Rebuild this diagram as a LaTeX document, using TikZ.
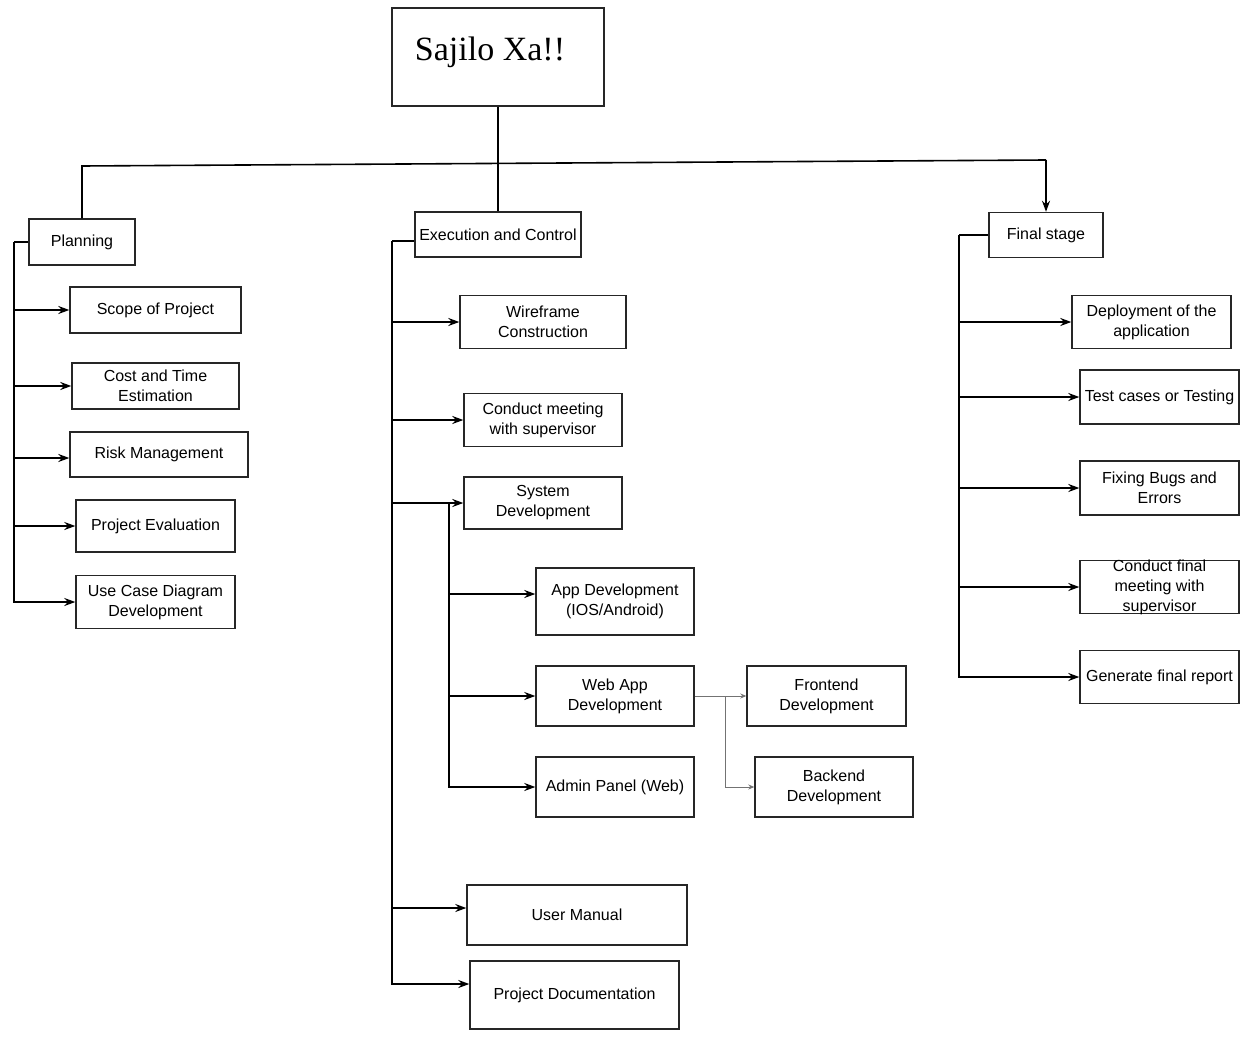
\documentclass[tikz,border=0pt]{standalone}
\usepackage{fontspec}
\setmainfont{Liberation Sans}
\newfontfamily\titlefont{Liberation Serif}
\usetikzlibrary{arrows.meta}
\tikzset{
  box/.style={draw=black!85,line width=1.4pt,align=center,inner sep=1pt,font=\fontsize{16}{20}\selectfont},
  link/.style={line width=1.6pt},
  arr/.style={link,-{Stealth[length=11pt,width=8pt]}},
  thinarr/.style={draw=black!55,line width=0.8pt,-{Stealth[length=6pt,width=5pt]}}
}
\begin{document}
\begin{tikzpicture}[x=1pt,y=-1pt]
\useasboundingbox (0,0) rectangle (1247,1038);
\node[box,minimum width=212,minimum height=98] (title) at (498,57) {};
\node[font=\titlefont\fontsize{34}{40}\selectfont] (titletext) at ([xshift=-8,yshift=5]title) {Sajilo Xa!!};
\node[box,minimum width=106,minimum height=46] (planning) at (82,242) {Planning};
\node[box,minimum width=166,minimum height=45] (exec) at (498,234.5) {Execution and Control};
\node[box,minimum width=114,minimum height=45] (final) at (1046,235) {Final stage};
% planning
\node[box,minimum width=171,minimum height=46] (scope) at (155.5,310) {Scope of Project};
\node[box,minimum width=167,minimum height=46] (cost) at (155.5,386) {Cost and Time\\Estimation};
\node[box,minimum width=178,minimum height=45] (risk) at (159,454.5) {Risk Management};
\node[box,minimum width=159,minimum height=52] (peval) at (155.5,526) {Project Evaluation};
\node[box,minimum width=159,minimum height=53] (usecase) at (155.5,602) {Use Case Diagram\\Development};
% execution and control
\node[box,minimum width=166,minimum height=53] (wire) at (543,322) {Wireframe\\Construction};
\node[box,minimum width=158,minimum height=53] (meet) at (543,420) {Conduct meeting\\with supervisor};
\node[box,minimum width=158,minimum height=52] (sysdev) at (543,503) {System\\Development};
\node[box,minimum width=158,minimum height=67] (app) at (615,601.5) {App Development\\(IOS/Android)};
\node[box,minimum width=158,minimum height=60] (web) at (615,696) {Web App\\Development};
\node[box,minimum width=158,minimum height=60] (admin) at (615,787) {Admin Panel (Web)};
\node[box,minimum width=159,minimum height=60] (front) at (826.5,696) {Frontend\\Development};
\node[box,minimum width=158,minimum height=60] (back) at (834,787) {Backend\\Development};
\node[box,minimum width=220,minimum height=60] (um) at (577,915) {User Manual};
\node[box,minimum width=209,minimum height=68] (doc) at (574.5,995) {Project Documentation};
% final stage
\node[box,minimum width=159,minimum height=53] (deploy) at (1151.5,322) {Deployment of the\\application};
\node[box,minimum width=159,minimum height=54] (test) at (1159.5,397) {Test cases or Testing};
\node[box,minimum width=159,minimum height=54] (fix) at (1159.5,488) {Fixing Bugs and\\Errors};
\node[box,minimum width=159,minimum height=53] (cfm) at (1159.5,587) {};
\node[align=center,font=\fontsize{16}{20}\selectfont] (cfmtext) at (cfm) {Conduct final\\meeting with\\supervisor};
\node[box,minimum width=159,minimum height=53] (gen) at (1159.5,677) {Generate final report};

\coordinate (hl) at (82,166);
\coordinate (hr) at (1046,160);
\draw[link] (title.south) -- (exec.north);
\draw[link] (planning.north) -- (hl) -- (hr);
\draw[arr] (hr) -- (final.north);

\coordinate (pt) at (14,242);
\coordinate (riskin) at ([yshift=-3.5]risk.west);
\draw[link] (planning.west) -- (pt);
\draw[arr] (pt) |- (usecase.west);
\foreach \n in {scope,cost,peval} \draw[arr] (pt|-\n.west) -- (\n.west);
\draw[arr] (pt|-riskin) -- (riskin);

\coordinate (et) at (392,241);
\coordinate (umin) at ([yshift=7]um.west);
\coordinate (docin) at ([yshift=11]doc.west);
\draw[link] (exec.west|-et) -- (et);
\draw[arr] (et) |- (docin);
\foreach \n in {wire,meet,sysdev} \draw[arr] (et|-\n.west) -- (\n.west);
\draw[arr] (et|-umin) -- (umin);

\coordinate (st) at (449,503);
\coordinate (appin) at ([yshift=7.5]app.west);
\draw[arr] (st) |- (admin.west);
\draw[arr] (st|-appin) -- (appin);
\draw[arr] (st|-web.west) -- (web.west);
\coordinate (wt) at (725,696);
\draw[thinarr] (web.east) -- (front.west);
\draw[thinarr] (wt) |- (back.west);

\coordinate (ft) at (959,235);
\draw[link] (final.west) -- (ft);
\draw[arr] (ft) |- (gen.west);
\foreach \n in {deploy,test,fix,cfm} \draw[arr] (ft|-\n.west) -- (\n.west);
\end{tikzpicture}
\end{document}
